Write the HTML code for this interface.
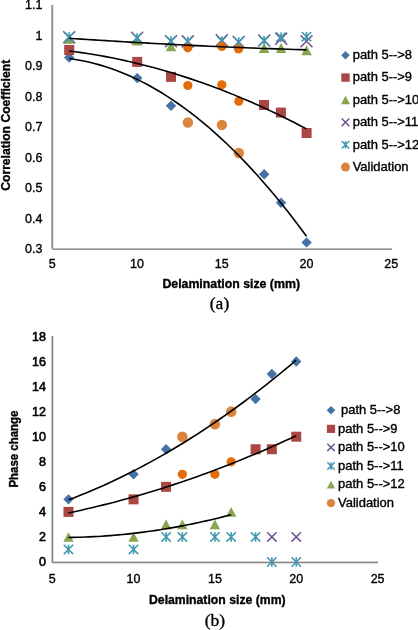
<!DOCTYPE html>
<html><head><meta charset="utf-8"><style>
html,body{margin:0;padding:0;background:#fff;}
svg{display:block;will-change:transform;}
</style></head><body>
<svg width="418" height="630" viewBox="0 0 418 630">
<rect width="418" height="630" fill="#fff"/>
<rect x="51" y="5" width="1" height="244" fill="#b2b2b2"/>
<rect x="52" y="5" width="1" height="244" fill="#8a8a8a"/>
<rect x="53" y="5" width="1" height="243" fill="#ececec"/>
<rect x="51" y="248" width="341" height="1" fill="#b8b8b8"/>
<rect x="52" y="249" width="340" height="1" fill="#959595"/>
<text x="42.4" y="9.10" font-family="Liberation Sans" font-size="12.5" font-weight="normal" text-anchor="end" stroke="#000" stroke-width="0.35">1.1</text>
<text x="42.4" y="39.60" font-family="Liberation Sans" font-size="12.5" font-weight="normal" text-anchor="end" stroke="#000" stroke-width="0.35">1</text>
<text x="42.4" y="70.10" font-family="Liberation Sans" font-size="12.5" font-weight="normal" text-anchor="end" stroke="#000" stroke-width="0.35">0.9</text>
<text x="42.4" y="100.60" font-family="Liberation Sans" font-size="12.5" font-weight="normal" text-anchor="end" stroke="#000" stroke-width="0.35">0.8</text>
<text x="42.4" y="131.10" font-family="Liberation Sans" font-size="12.5" font-weight="normal" text-anchor="end" stroke="#000" stroke-width="0.35">0.7</text>
<text x="42.4" y="161.60" font-family="Liberation Sans" font-size="12.5" font-weight="normal" text-anchor="end" stroke="#000" stroke-width="0.35">0.6</text>
<text x="42.4" y="192.10" font-family="Liberation Sans" font-size="12.5" font-weight="normal" text-anchor="end" stroke="#000" stroke-width="0.35">0.5</text>
<text x="42.4" y="222.60" font-family="Liberation Sans" font-size="12.5" font-weight="normal" text-anchor="end" stroke="#000" stroke-width="0.35">0.4</text>
<text x="42.4" y="253.10" font-family="Liberation Sans" font-size="12.5" font-weight="normal" text-anchor="end" stroke="#000" stroke-width="0.35">0.3</text>
<text x="52.20" y="268.4" font-family="Liberation Sans" font-size="12.5" font-weight="normal" text-anchor="middle" stroke="#000" stroke-width="0.35">5</text>
<text x="136.95" y="268.4" font-family="Liberation Sans" font-size="12.5" font-weight="normal" text-anchor="middle" stroke="#000" stroke-width="0.35">10</text>
<text x="221.70" y="268.4" font-family="Liberation Sans" font-size="12.5" font-weight="normal" text-anchor="middle" stroke="#000" stroke-width="0.35">15</text>
<text x="306.45" y="268.4" font-family="Liberation Sans" font-size="12.5" font-weight="normal" text-anchor="middle" stroke="#000" stroke-width="0.35">20</text>
<text x="391.20" y="268.4" font-family="Liberation Sans" font-size="12.5" font-weight="normal" text-anchor="middle" stroke="#000" stroke-width="0.35">25</text>
<path d="M69.20 52.30L74.40 57.50L69.20 62.70L64.00 57.50Z" fill="#4572A7"/>
<path d="M137.20 72.90L142.40 78.10L137.20 83.30L132.00 78.10Z" fill="#4572A7"/>
<path d="M171.00 100.60L176.20 105.80L171.00 111.00L165.80 105.80Z" fill="#4572A7"/>
<path d="M264.20 169.00L269.40 174.20L264.20 179.40L259.00 174.20Z" fill="#4572A7"/>
<path d="M281.00 197.50L286.20 202.70L281.00 207.90L275.80 202.70Z" fill="#4572A7"/>
<path d="M306.60 237.20L311.80 242.40L306.60 247.60L301.40 242.40Z" fill="#4572A7"/>
<rect x="64.20" y="45.00" width="10.00" height="10.00" fill="#AA4643"/>
<rect x="132.20" y="56.90" width="10.00" height="10.00" fill="#AA4643"/>
<rect x="166.00" y="71.90" width="10.00" height="10.00" fill="#AA4643"/>
<rect x="259.00" y="100.00" width="10.00" height="10.00" fill="#AA4643"/>
<rect x="275.90" y="107.60" width="10.00" height="10.00" fill="#AA4643"/>
<rect x="301.60" y="128.00" width="10.00" height="10.00" fill="#AA4643"/>
<path d="M69.20 33.70L74.50 43.70L63.90 43.70Z" fill="#89A54E"/>
<path d="M137.20 35.50L142.50 45.50L131.90 45.50Z" fill="#89A54E"/>
<path d="M171.00 41.30L176.30 51.30L165.70 51.30Z" fill="#89A54E"/>
<path d="M264.10 43.10L269.40 53.10L258.80 53.10Z" fill="#89A54E"/>
<path d="M281.10 43.05L286.40 53.05L275.80 53.05Z" fill="#89A54E"/>
<path d="M306.60 45.15L311.90 55.15L301.30 55.15Z" fill="#89A54E"/>
<path d="M63.20 31.20L75.20 43.20M75.20 31.20L63.20 43.20" stroke="#71588F" stroke-width="1.6" fill="none"/>
<path d="M131.10 31.80L143.10 43.80M143.10 31.80L131.10 43.80" stroke="#71588F" stroke-width="1.6" fill="none"/>
<path d="M165.00 35.30L177.00 47.30M177.00 35.30L165.00 47.30" stroke="#71588F" stroke-width="1.6" fill="none"/>
<path d="M181.80 35.40L193.80 47.40M193.80 35.40L181.80 47.40" stroke="#71588F" stroke-width="1.6" fill="none"/>
<path d="M215.80 34.30L227.80 46.30M227.80 34.30L215.80 46.30" stroke="#71588F" stroke-width="1.6" fill="none"/>
<path d="M232.70 36.00L244.70 48.00M244.70 36.00L232.70 48.00" stroke="#71588F" stroke-width="1.6" fill="none"/>
<path d="M258.20 34.50L270.20 46.50M270.20 34.50L258.20 46.50" stroke="#71588F" stroke-width="1.6" fill="none"/>
<path d="M275.20 32.80L287.20 44.80M287.20 32.80L275.20 44.80" stroke="#71588F" stroke-width="1.6" fill="none"/>
<path d="M300.50 35.30L312.50 47.30M312.50 35.30L300.50 47.30" stroke="#71588F" stroke-width="1.6" fill="none"/>
<path d="M64.50 32.30L73.90 41.70M73.90 32.30L64.50 41.70M69.20 32.30L69.20 41.70" stroke="#4198AF" stroke-width="1.6" fill="none"/>
<path d="M132.40 33.30L141.80 42.70M141.80 33.30L132.40 42.70M137.10 33.30L137.10 42.70" stroke="#4198AF" stroke-width="1.6" fill="none"/>
<path d="M166.30 36.30L175.70 45.70M175.70 36.30L166.30 45.70M171.00 36.30L171.00 45.70" stroke="#4198AF" stroke-width="1.6" fill="none"/>
<path d="M183.10 36.80L192.50 46.20M192.50 36.80L183.10 46.20M187.80 36.80L187.80 46.20" stroke="#4198AF" stroke-width="1.6" fill="none"/>
<path d="M217.10 36.30L226.50 45.70M226.50 36.30L217.10 45.70M221.80 36.30L221.80 45.70" stroke="#4198AF" stroke-width="1.6" fill="none"/>
<path d="M234.00 37.30L243.40 46.70M243.40 37.30L234.00 46.70M238.70 37.30L238.70 46.70" stroke="#4198AF" stroke-width="1.6" fill="none"/>
<path d="M259.40 36.10L268.80 45.50M268.80 36.10L259.40 45.50M264.10 36.10L264.10 45.50" stroke="#4198AF" stroke-width="1.6" fill="none"/>
<path d="M276.30 32.50L285.70 41.90M285.70 32.50L276.30 41.90M281.00 32.50L281.00 41.90" stroke="#4198AF" stroke-width="1.6" fill="none"/>
<path d="M301.80 32.00L311.20 41.40M311.20 32.00L301.80 41.40M306.50 32.00L306.50 41.40" stroke="#4198AF" stroke-width="1.6" fill="none"/>
<circle cx="187.90" cy="122.50" r="5.20" fill="#DB843D"/>
<circle cx="221.90" cy="124.90" r="5.20" fill="#DB843D"/>
<circle cx="238.90" cy="153.00" r="5.20" fill="#DB843D"/>
<circle cx="187.80" cy="47.80" r="4.60" fill="#E36C0A"/>
<circle cx="221.80" cy="46.50" r="4.60" fill="#E36C0A"/>
<circle cx="238.60" cy="49.00" r="4.60" fill="#E36C0A"/>
<circle cx="187.80" cy="85.50" r="4.60" fill="#E36C0A"/>
<circle cx="221.80" cy="84.80" r="4.60" fill="#E36C0A"/>
<circle cx="238.80" cy="101.20" r="4.60" fill="#E36C0A"/>
<path d="M69.15 38.29 L75.23 38.70 L81.32 39.10 L87.40 39.50 L93.49 39.89 L99.57 40.27 L105.66 40.65 L111.74 41.02 L117.83 41.39 L123.91 41.75 L130.00 42.11 L136.08 42.45 L142.17 42.80 L148.25 43.14 L154.33 43.47 L160.42 43.79 L166.50 44.11 L172.59 44.43 L178.67 44.73 L184.76 45.04 L190.84 45.33 L196.93 45.62 L203.01 45.91 L209.10 46.19 L215.18 46.46 L221.27 46.73 L227.35 46.99 L233.43 47.24 L239.52 47.49 L245.60 47.73 L251.69 47.97 L257.77 48.20 L263.86 48.43 L269.94 48.65 L276.03 48.86 L282.11 49.07 L288.20 49.27 L294.28 49.47 L300.37 49.66 L306.45 49.84" stroke="#000" stroke-width="1.6" fill="none" stroke-linecap="butt"/>
<path d="M69.15 50.94 L75.23 51.73 L81.32 52.59 L87.40 53.51 L93.49 54.50 L99.57 55.55 L105.66 56.66 L111.74 57.83 L117.83 59.07 L123.91 60.37 L130.00 61.74 L136.08 63.16 L142.17 64.66 L148.25 66.21 L154.33 67.83 L160.42 69.51 L166.50 71.26 L172.59 73.06 L178.67 74.94 L184.76 76.87 L190.84 78.87 L196.93 80.93 L203.01 83.06 L209.10 85.25 L215.18 87.50 L221.27 89.81 L227.35 92.19 L233.43 94.63 L239.52 97.14 L245.60 99.71 L251.69 102.34 L257.77 105.04 L263.86 107.79 L269.94 110.62 L276.03 113.50 L282.11 116.45 L288.20 119.46 L294.28 122.54 L300.37 125.68 L306.45 128.88" stroke="#000" stroke-width="1.6" fill="none" stroke-linecap="butt"/>
<path d="M69.15 58.56 L75.23 59.43 L81.32 60.51 L87.40 61.77 L93.49 63.23 L99.57 64.88 L105.66 66.73 L111.74 68.77 L117.83 71.00 L123.91 73.43 L130.00 76.05 L136.08 78.86 L142.17 81.87 L148.25 85.07 L154.33 88.46 L160.42 92.05 L166.50 95.83 L172.59 99.81 L178.67 103.98 L184.76 108.34 L190.84 112.89 L196.93 117.64 L203.01 122.59 L209.10 127.72 L215.18 133.05 L221.27 138.58 L227.35 144.29 L233.43 150.20 L239.52 156.31 L245.60 162.60 L251.69 169.10 L257.77 175.78 L263.86 182.66 L269.94 189.73 L276.03 197.00 L282.11 204.45 L288.20 212.11 L294.28 219.95 L300.37 227.99 L306.45 236.22" stroke="#000" stroke-width="1.6" fill="none" stroke-linecap="butt"/>
<path d="M345.50 50.90L349.80 55.20L345.50 59.50L341.20 55.20Z" fill="#4572A7"/>
<rect x="341.30" y="73.38" width="8.40" height="8.40" fill="#AA4643"/>
<path d="M345.50 95.76L350.00 104.16L341.00 104.16Z" fill="#89A54E"/>
<path d="M341.70 118.54L349.30 126.14M349.30 118.54L341.70 126.14" stroke="#71588F" stroke-width="1.5" fill="none"/>
<path d="M341.70 140.92L349.30 148.52M349.30 140.92L341.70 148.52M345.50 140.92L345.50 148.52" stroke="#4198AF" stroke-width="1.5" fill="none"/>
<circle cx="345.50" cy="167.10" r="4.50" fill="#DB843D"/>
<text transform="translate(352.7 59.00) scale(1.08 1)" font-family="Liberation Sans" font-size="12" stroke="#000" stroke-width="0.35">path 5--&gt;8</text>
<text transform="translate(352.7 81.38) scale(1.08 1)" font-family="Liberation Sans" font-size="12" stroke="#000" stroke-width="0.35">path 5--&gt;9</text>
<text transform="translate(352.7 103.76) scale(1.08 1)" font-family="Liberation Sans" font-size="12" stroke="#000" stroke-width="0.35">path 5--&gt;10</text>
<text transform="translate(352.7 126.14) scale(1.08 1)" font-family="Liberation Sans" font-size="12" stroke="#000" stroke-width="0.35">path 5--&gt;11</text>
<text transform="translate(352.7 148.52) scale(1.08 1)" font-family="Liberation Sans" font-size="12" stroke="#000" stroke-width="0.35">path 5--&gt;12</text>
<text transform="translate(352.7 170.90) scale(1.08 1)" font-family="Liberation Sans" font-size="12" stroke="#000" stroke-width="0.35">Validation</text>
<text transform="translate(10.2 125.3) rotate(-90)" x="0" y="0" font-family="Liberation Sans" font-size="12.6" font-weight="bold" text-anchor="middle" textLength="131" lengthAdjust="spacingAndGlyphs" stroke="#000" stroke-width="0.35">Correlation Coefficient</text>
<text x="162.4" y="288.3" font-family="Liberation Sans" font-size="12.6" font-weight="bold" text-anchor="start" textLength="137.6" lengthAdjust="spacingAndGlyphs" stroke="#000" stroke-width="0.35">Delamination size (mm)</text>
<text x="209.8" y="308.6" font-family="Liberation Serif" font-size="17.5" font-weight="normal" text-anchor="start" stroke="#000" stroke-width="0.35">(a)</text>
<rect x="51" y="336" width="1" height="227" fill="#c4c4c4"/>
<rect x="52" y="336" width="1" height="227" fill="#868686"/>
<rect x="53" y="336" width="1" height="225" fill="#dcdcdc"/>
<rect x="53" y="561" width="325" height="1" fill="#cccccc"/>
<rect x="52" y="562" width="326" height="1" fill="#888888"/>
<rect x="52" y="563" width="326" height="1" fill="#dddddd"/>
<text x="45.9" y="566.40" font-family="Liberation Sans" font-size="12.5" font-weight="normal" text-anchor="end" stroke="#000" stroke-width="0.6">0</text>
<text x="45.9" y="541.34" font-family="Liberation Sans" font-size="12.5" font-weight="normal" text-anchor="end" stroke="#000" stroke-width="0.6">2</text>
<text x="45.9" y="516.28" font-family="Liberation Sans" font-size="12.5" font-weight="normal" text-anchor="end" stroke="#000" stroke-width="0.6">4</text>
<text x="45.9" y="491.22" font-family="Liberation Sans" font-size="12.5" font-weight="normal" text-anchor="end" stroke="#000" stroke-width="0.6">6</text>
<text x="45.9" y="466.16" font-family="Liberation Sans" font-size="12.5" font-weight="normal" text-anchor="end" stroke="#000" stroke-width="0.6">8</text>
<text x="45.9" y="441.10" font-family="Liberation Sans" font-size="12.5" font-weight="normal" text-anchor="end" stroke="#000" stroke-width="0.6">10</text>
<text x="45.9" y="416.04" font-family="Liberation Sans" font-size="12.5" font-weight="normal" text-anchor="end" stroke="#000" stroke-width="0.6">12</text>
<text x="45.9" y="390.98" font-family="Liberation Sans" font-size="12.5" font-weight="normal" text-anchor="end" stroke="#000" stroke-width="0.6">14</text>
<text x="45.9" y="365.92" font-family="Liberation Sans" font-size="12.5" font-weight="normal" text-anchor="end" stroke="#000" stroke-width="0.6">16</text>
<text x="45.9" y="340.86" font-family="Liberation Sans" font-size="12.5" font-weight="normal" text-anchor="end" stroke="#000" stroke-width="0.6">18</text>
<text x="52.20" y="582.8" font-family="Liberation Sans" font-size="12.5" font-weight="normal" text-anchor="middle" stroke="#000" stroke-width="0.35">5</text>
<text x="133.55" y="582.8" font-family="Liberation Sans" font-size="12.5" font-weight="normal" text-anchor="middle" stroke="#000" stroke-width="0.35">10</text>
<text x="214.90" y="582.8" font-family="Liberation Sans" font-size="12.5" font-weight="normal" text-anchor="middle" stroke="#000" stroke-width="0.35">15</text>
<text x="296.25" y="582.8" font-family="Liberation Sans" font-size="12.5" font-weight="normal" text-anchor="middle" stroke="#000" stroke-width="0.35">20</text>
<text x="377.60" y="582.8" font-family="Liberation Sans" font-size="12.5" font-weight="normal" text-anchor="middle" stroke="#000" stroke-width="0.35">25</text>
<path d="M68.47 494.15L73.67 499.35L68.47 504.55L63.27 499.35Z" fill="#4572A7"/>
<path d="M133.55 469.09L138.75 474.29L133.55 479.49L128.35 474.29Z" fill="#4572A7"/>
<path d="M166.09 444.03L171.29 449.23L166.09 454.43L160.89 449.23Z" fill="#4572A7"/>
<path d="M255.57 393.91L260.77 399.11L255.57 404.31L250.38 399.11Z" fill="#4572A7"/>
<path d="M271.84 368.85L277.04 374.05L271.84 379.25L266.64 374.05Z" fill="#4572A7"/>
<path d="M296.25 356.32L301.45 361.52L296.25 366.72L291.05 361.52Z" fill="#4572A7"/>
<rect x="63.47" y="506.88" width="10.00" height="10.00" fill="#AA4643"/>
<rect x="128.55" y="494.35" width="10.00" height="10.00" fill="#AA4643"/>
<rect x="161.09" y="481.82" width="10.00" height="10.00" fill="#AA4643"/>
<rect x="250.57" y="444.23" width="10.00" height="10.00" fill="#AA4643"/>
<rect x="266.84" y="444.23" width="10.00" height="10.00" fill="#AA4643"/>
<rect x="291.25" y="431.70" width="10.00" height="10.00" fill="#AA4643"/>
<path d="M267.14 532.24L276.54 541.64M276.54 532.24L267.14 541.64" stroke="#71588F" stroke-width="1.6" fill="none"/>
<path d="M291.55 532.24L300.95 541.64M300.95 532.24L291.55 541.64" stroke="#71588F" stroke-width="1.6" fill="none"/>
<path d="M63.77 544.77L73.17 554.17M73.17 544.77L63.77 554.17M68.47 544.77L68.47 554.17" stroke="#4198AF" stroke-width="1.6" fill="none"/>
<path d="M128.85 544.77L138.25 554.17M138.25 544.77L128.85 554.17M133.55 544.77L133.55 554.17" stroke="#4198AF" stroke-width="1.6" fill="none"/>
<path d="M161.39 532.24L170.79 541.64M170.79 532.24L161.39 541.64M166.09 532.24L166.09 541.64" stroke="#4198AF" stroke-width="1.6" fill="none"/>
<path d="M177.66 532.24L187.06 541.64M187.06 532.24L177.66 541.64M182.36 532.24L182.36 541.64" stroke="#4198AF" stroke-width="1.6" fill="none"/>
<path d="M210.20 532.24L219.60 541.64M219.60 532.24L210.20 541.64M214.90 532.24L214.90 541.64" stroke="#4198AF" stroke-width="1.6" fill="none"/>
<path d="M226.47 532.24L235.87 541.64M235.87 532.24L226.47 541.64M231.17 532.24L231.17 541.64" stroke="#4198AF" stroke-width="1.6" fill="none"/>
<path d="M250.88 532.24L260.27 541.64M260.27 532.24L250.88 541.64M255.57 532.24L255.57 541.64" stroke="#4198AF" stroke-width="1.6" fill="none"/>
<path d="M267.14 557.30L276.54 566.70M276.54 557.30L267.14 566.70M271.84 557.30L271.84 566.70" stroke="#4198AF" stroke-width="1.6" fill="none"/>
<path d="M291.55 557.30L300.95 566.70M300.95 557.30L291.55 566.70M296.25 557.30L296.25 566.70" stroke="#4198AF" stroke-width="1.6" fill="none"/>
<path d="M68.47 532.14L73.67 541.74L63.27 541.74Z" fill="#89A54E"/>
<path d="M133.55 532.14L138.75 541.74L128.35 541.74Z" fill="#89A54E"/>
<path d="M166.09 519.61L171.29 529.21L160.89 529.21Z" fill="#89A54E"/>
<path d="M182.36 519.61L187.56 529.21L177.16 529.21Z" fill="#89A54E"/>
<path d="M214.90 519.61L220.10 529.21L209.70 529.21Z" fill="#89A54E"/>
<path d="M231.17 507.08L236.37 516.68L225.97 516.68Z" fill="#89A54E"/>
<circle cx="182.36" cy="436.70" r="5.30" fill="#DB843D"/>
<circle cx="214.90" cy="424.17" r="5.30" fill="#DB843D"/>
<circle cx="231.17" cy="411.64" r="5.30" fill="#DB843D"/>
<circle cx="182.36" cy="474.29" r="4.60" fill="#E36C0A"/>
<circle cx="214.90" cy="474.29" r="4.60" fill="#E36C0A"/>
<circle cx="231.17" cy="461.76" r="4.60" fill="#E36C0A"/>
<path d="M68.47 499.87 L74.31 497.64 L80.15 495.33 L85.99 492.95 L91.83 490.51 L97.67 487.99 L103.51 485.40 L109.35 482.74 L115.19 480.01 L121.03 477.20 L126.88 474.33 L132.72 471.39 L138.56 468.37 L144.40 465.29 L150.24 462.13 L156.08 458.90 L161.92 455.60 L167.76 452.23 L173.60 448.79 L179.44 445.28 L185.28 441.70 L191.12 438.05 L196.96 434.32 L202.80 430.53 L208.64 426.66 L214.48 422.73 L220.32 418.72 L226.16 414.64 L232.00 410.49 L237.84 406.27 L243.69 401.98 L249.53 397.62 L255.37 393.19 L261.21 388.69 L267.05 384.11 L272.89 379.47 L278.73 374.75 L284.57 369.97 L290.41 365.11 L296.25 360.18" stroke="#000" stroke-width="1.6" fill="none"/>
<path d="M68.47 512.93 L74.31 511.69 L80.15 510.41 L85.99 509.09 L91.83 507.73 L97.67 506.33 L103.51 504.90 L109.35 503.42 L115.19 501.91 L121.03 500.35 L126.88 498.76 L132.72 497.13 L138.56 495.46 L144.40 493.75 L150.24 492.00 L156.08 490.22 L161.92 488.39 L167.76 486.53 L173.60 484.63 L179.44 482.69 L185.28 480.70 L191.12 478.69 L196.96 476.63 L202.80 474.53 L208.64 472.39 L214.48 470.22 L220.32 468.01 L226.16 465.75 L232.00 463.46 L237.84 461.13 L243.69 458.76 L249.53 456.36 L255.37 453.91 L261.21 451.42 L267.05 448.90 L272.89 446.34 L278.73 443.74 L284.57 441.09 L290.41 438.41 L296.25 435.70" stroke="#000" stroke-width="1.6" fill="none"/>
<path d="M68.47 537.45 L72.64 537.39 L76.81 537.30 L80.99 537.18 L85.16 537.04 L89.33 536.87 L93.50 536.67 L97.67 536.44 L101.84 536.18 L106.02 535.90 L110.19 535.59 L114.36 535.26 L118.53 534.89 L122.70 534.50 L126.88 534.08 L131.05 533.63 L135.22 533.16 L139.39 532.66 L143.56 532.13 L147.73 531.57 L151.91 530.99 L156.08 530.38 L160.25 529.74 L164.42 529.07 L168.59 528.38 L172.76 527.65 L176.94 526.91 L181.11 526.13 L185.28 525.33 L189.45 524.49 L193.62 523.64 L197.80 522.75 L201.97 521.84 L206.14 520.89 L210.31 519.93 L214.48 518.93 L218.65 517.91 L222.83 516.86 L227.00 515.78 L231.17 514.67" stroke="#000" stroke-width="1.6" fill="none"/>
<path d="M331.00 406.00L335.30 410.30L331.00 414.60L326.70 410.30Z" fill="#4572A7"/>
<rect x="326.90" y="424.76" width="8.20" height="8.20" fill="#AA4643"/>
<path d="M327.30 443.72L334.70 451.12M334.70 443.72L327.30 451.12" stroke="#71588F" stroke-width="1.5" fill="none"/>
<path d="M327.30 462.28L334.70 469.68M334.70 462.28L327.30 469.68M331.00 462.28L331.00 469.68" stroke="#4198AF" stroke-width="1.5" fill="none"/>
<path d="M331.00 480.64L335.20 488.44L326.80 488.44Z" fill="#89A54E"/>
<circle cx="331.00" cy="503.10" r="4.20" fill="#DB843D"/>
<text transform="translate(341.0 414.00) scale(1.08 1)" font-family="Liberation Sans" font-size="12" stroke="#000" stroke-width="0.35">path 5--&gt;8</text>
<text transform="translate(338.1 432.56) scale(1.08 1)" font-family="Liberation Sans" font-size="12" stroke="#000" stroke-width="0.35">path 5--&gt;9</text>
<text transform="translate(338.1 451.12) scale(1.08 1)" font-family="Liberation Sans" font-size="12" stroke="#000" stroke-width="0.35">path 5--&gt;10</text>
<text transform="translate(338.1 469.68) scale(1.08 1)" font-family="Liberation Sans" font-size="12" stroke="#000" stroke-width="0.35">path 5--&gt;11</text>
<text transform="translate(338.1 488.24) scale(1.08 1)" font-family="Liberation Sans" font-size="12" stroke="#000" stroke-width="0.35">path 5--&gt;12</text>
<text transform="translate(338.1 506.80) scale(1.08 1)" font-family="Liberation Sans" font-size="12" stroke="#000" stroke-width="0.35">Validation</text>
<text transform="translate(17.9 449.1) rotate(-90)" x="0" y="0" font-family="Liberation Sans" font-size="12.6" font-weight="bold" text-anchor="middle" textLength="77" lengthAdjust="spacingAndGlyphs" stroke="#000" stroke-width="0.35">Phase change</text>
<text x="149.0" y="603.8" font-family="Liberation Sans" font-size="12.6" font-weight="bold" text-anchor="start" textLength="136.6" lengthAdjust="spacingAndGlyphs" stroke="#000" stroke-width="0.35">Delamination size (mm)</text>
<text x="204.8" y="626.4" font-family="Liberation Serif" font-size="17.5" font-weight="normal" text-anchor="start" stroke="#000" stroke-width="0.35">(b)</text>
</svg>
</body></html>
